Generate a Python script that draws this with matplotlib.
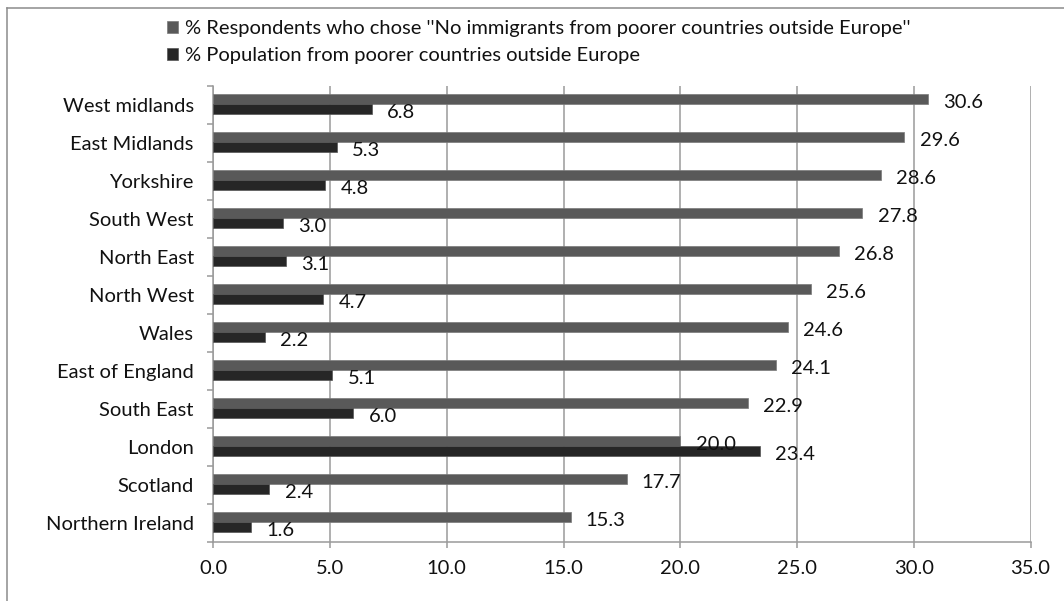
import matplotlib
matplotlib.use("Agg")
import matplotlib.pyplot as plt
from matplotlib.lines import Line2D
from matplotlib.ticker import FixedLocator
import numpy as np

regions = ["West midlands", "East Midlands", "Yorkshire", "South West", "North East",
           "North West", "Wales", "East of England", "South East", "London",
           "Scotland", "Northern Ireland"]
respondents = [30.6, 29.6, 28.6, 27.8, 26.8, 25.6, 24.6, 24.1, 22.9, 20.0, 17.7, 15.3]
population = [6.8, 5.3, 4.8, 3.0, 3.1, 4.7, 2.2, 5.1, 6.0, 23.4, 2.4, 1.6]
series_names = ["% Respondents who chose ''No immigrants from poorer countries outside Europe''",
                "% Population from poorer countries outside Europe"]
x_ticks = [0, 5, 10, 15, 20, 25, 30, 35]

plt.rcParams['font.family'] = ['Lato', 'DejaVu Sans']
FS = 14.5

W, H = 1064, 601
fig = plt.figure(figsize=(W / 100, H / 100), dpi=100)
ax = fig.add_axes([213.3 / W, 1 - 541.7 / H, (1030.5 - 213.3) / W, (541.7 - 86) / H])

gray = "#595959"
dark = "#262626"
y = np.arange(len(regions))
h = 0.26
b1 = ax.barh(y - 0.155, respondents, height=h, color=gray, edgecolor="#7a7a7a", linewidth=0.5, zorder=3)
b2 = ax.barh(y + 0.11, population, height=h, color=dark, edgecolor="#555555", linewidth=0.5, zorder=3)

for bars, vals in ((b1, respondents), (b2, population)):
    for rect, v in zip(bars, vals):
        cy = rect.get_y() + rect.get_height() / 2
        ax.annotate(f"{v:.1f}", (v, cy), xytext=(11, -2.5), textcoords="offset points",
                    ha="left", va="center", fontsize=FS, color="#111111", zorder=4)

ax.set_xlim(0, 35)
ax.set_ylim(len(regions) - 0.5, -0.5)
ax.set_xticks(x_ticks)
ax.set_xticklabels([f"{t:.1f}" for t in x_ticks])
ax.set_yticks(y)
ax.set_yticklabels(regions)
ax.yaxis.set_minor_locator(FixedLocator(np.arange(-0.5, len(regions), 1.0)))

ax.grid(axis="x", color="#9a9a9a", linewidth=1.1, zorder=0)
ax.set_axisbelow(True)
for s in ["top", "right"]:
    ax.spines[s].set_visible(False)
for s in ["left", "bottom"]:
    ax.spines[s].set_color("#9a9a9a")
    ax.spines[s].set_linewidth(1.1)

ax.tick_params(axis="x", which="major", length=4, width=1.1, color="#9a9a9a",
               labelsize=FS, pad=9, labelcolor="#111111")
ax.tick_params(axis="y", which="major", length=0, labelsize=FS, pad=14, labelcolor="#111111")
ax.tick_params(axis="y", which="minor", length=4, width=1.1, color="#9a9a9a")

leg = fig.legend([b1, b2], series_names, loc="upper left",
                 bbox_to_anchor=(167 / W, 1 - 20 / H), frameon=False, fontsize=FS,
                 handlelength=0.55, handleheight=0.55, handletextpad=0.35, labelspacing=0.5,
                 borderaxespad=0, borderpad=0)
for t in leg.get_texts():
    t.set_color("#111111")

border_c = "#8c8c8c"
fig.add_artist(Line2D([7.3 / W, 1], [1 - 8.3 / H, 1 - 8.3 / H], transform=fig.transFigure,
                      color=border_c, linewidth=1.1))
fig.add_artist(Line2D([7.3 / W, 7.3 / W], [0, 1 - 8.3 / H], transform=fig.transFigure,
                      color=border_c, linewidth=1.1))

fig.savefig("out.png", dpi=100)
